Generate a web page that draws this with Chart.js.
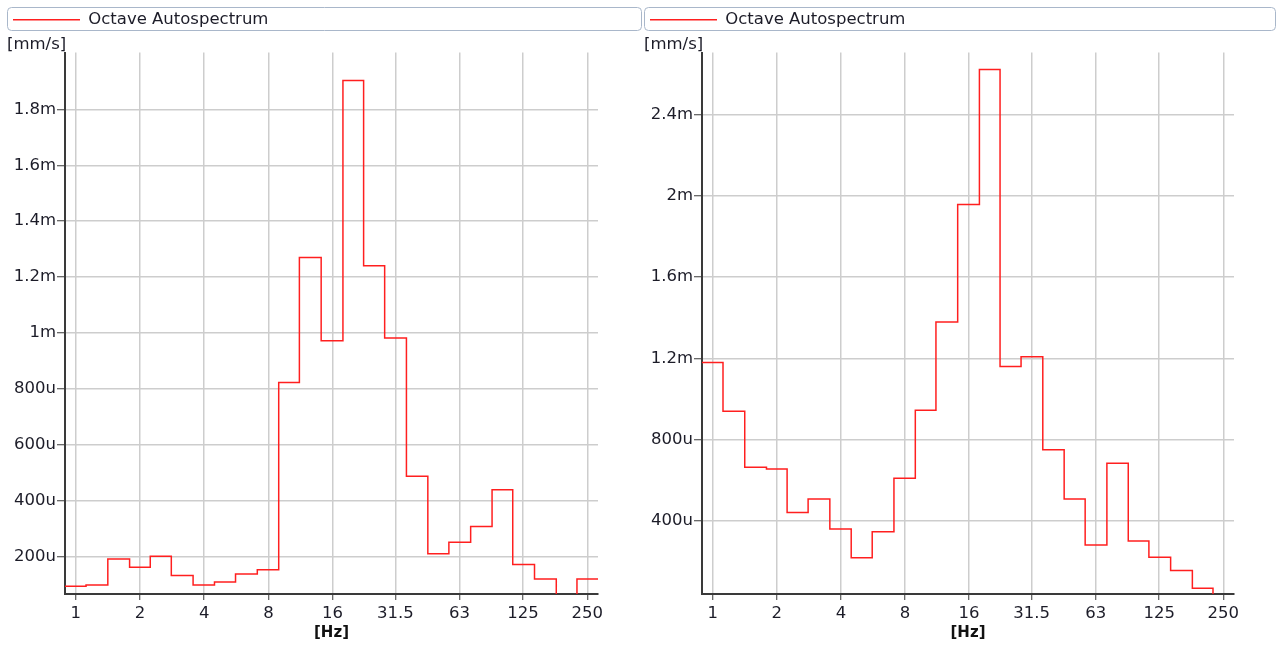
<!DOCTYPE html>
<html>
<head>
<meta charset="utf-8">
<script src="https://cdn.jsdelivr.net/npm/chart.js@4/dist/chart.umd.min.js"></script>
<style>
  html, body { margin: 0; padding: 0; background: #ffffff; }
  .wrap { position: absolute; top: 0; }
  canvas { display: block; }
</style>
</head>
<body>
<div class="wrap" style="left:0px;"><canvas id="c1" width="643" height="646"></canvas></div>
<div class="wrap" style="left:637px;"><canvas id="c2" width="640" height="646"></canvas></div>
<script>
// 1/3-octave band centre frequencies [Hz]
const bands = [1, 1.25, 1.6, 2, 2.5, 3.15, 4, 5, 6.3, 8, 10, 12.5, 16, 20, 25, 31.5, 40, 50, 63, 80, 100, 125, 160, 200, 250];

// Octave Autospectrum, left panel [mm/s]
const leftValues = [0.000093, 0.000097, 0.000190, 0.000161, 0.000200, 0.000131, 0.000097, 0.000108, 0.000137, 0.000152,
                    0.000822, 0.001270, 0.000972, 0.001904, 0.001240, 0.000982, 0.000487, 0.000209, 0.000250, 0.000307,
                    0.000438, 0.000171, 0.000119, 0.000040, 0.000119];

// Octave Autospectrum, right panel [mm/s]
const rightValues = [0.001179, 0.000939, 0.000663, 0.000655, 0.000441, 0.000507, 0.000359, 0.000218, 0.000346, 0.000609,
                     0.000944, 0.001379, 0.001957, 0.002622, 0.001159, 0.001207, 0.000750, 0.000507, 0.000280, 0.000683,
                     0.000300, 0.000220, 0.000155, 0.000067, 0.000020];

// tick values
const xTicks = [1, 2, 4, 8, 16, 31.5, 63, 125, 250];
const leftYTicks = [0.0002, 0.0004, 0.0006, 0.0008, 0.0010, 0.0012, 0.0014, 0.0016, 0.0018];
const rightYTicks = [0.0004, 0.0008, 0.0012, 0.0016, 0.0020, 0.0024];

// axis ranges
const leftYRange = [0.000065, 0.002004];
const rightYRange = [0.000039, 0.002706];

const seriesLabel = 'Octave Autospectrum';
const yUnit = '[mm/s]';
const xUnit = '[Hz]';

const FONT = "'DejaVu Sans', Verdana, sans-serif";
const FS = 16.5;
const OCT6 = Math.pow(2, 1 / 6);

function bandEdges(c) {
  const e = [c[0] / OCT6];
  for (let i = 0; i < c.length - 1; i++) e.push(Math.sqrt(c[i] * c[i + 1]));
  e.push(c[c.length - 1] * OCT6);
  return e;
}

function stepPoints(values) {
  const e = bandEdges(bands);
  const pts = values.map((v, i) => ({ x: e[i], y: v }));
  pts.push({ x: e[e.length - 1], y: values[values.length - 1] });
  return pts;
}

function fmtY(v) {
  if (v >= 0.001 - 1e-12) return parseFloat((v * 1e3).toFixed(4)) + 'm';
  return parseFloat((v * 1e6).toFixed(2)) + 'u';
}

const legendBoxPlugin = {
  id: 'legendBox',
  afterDraw(chart) {
    const ctx = chart.ctx;
    const w = chart.width;
    ctx.save();
    ctx.strokeStyle = '#a9b7ca';
    ctx.lineWidth = 1;
    ctx.beginPath();
    ctx.roundRect(7.5, 7.5, w - 9, 23, 4);
    ctx.stroke();
    ctx.restore();
  }
};

function makeChart(id, values, yTicks, yRange, rightPad) {
  const xmin = bands[0] / OCT6;
  const xmax = bands[bands.length - 1] * OCT6;
  return new Chart(document.getElementById(id), {
    type: 'line',
    data: {
      datasets: [{
        label: seriesLabel,
        data: stepPoints(values),
        borderColor: '#ff1f1f',
        backgroundColor: '#ff1f1f',
        borderWidth: 1.5,
        pointRadius: 0,
        pointHoverRadius: 0,
        stepped: 'before',
        fill: false,
        tension: 0
      }]
    },
    options: {
      responsive: false,
      animation: false,
      events: [],
      layout: { padding: { left: 7, top: 5.5, right: rightPad, bottom: 0 } },
      plugins: {
        legend: {
          display: true,
          position: 'top',
          align: 'start',
          labels: {
            usePointStyle: true,
            pointStyle: 'line',
            pointStyleWidth: 67,
            padding: 6,
            color: '#1c1c28',
            font: { family: FONT, size: FS }
          }
        },
        subtitle: {
          display: true,
          text: yUnit,
          align: 'start',
          position: 'top',
          weight: 500,
          color: '#1c1c28',
          font: { family: FONT, size: FS, lineHeight: '13px' },
          padding: { top: 0.5, bottom: 1 }
        },
        title: { display: false },
        tooltip: { enabled: false }
      },
      scales: {
        x: {
          type: 'logarithmic',
          position: 'bottom',
          min: xmin,
          max: xmax,
          bounds: 'data',
          afterBuildTicks(scale) { scale.ticks = xTicks.map(v => ({ value: v })); },
          afterFit(scale) { scale.height = 52; },
          ticks: {
            autoSkip: false,
            maxRotation: 0,
            minRotation: 0,
            padding: 4,
            color: '#1c1c28',
            font: { family: FONT, size: FS },
            callback: (v) => String(v)
          },
          grid: {
            color: '#cdcdcd',
            lineWidth: 1.5,
            tickColor: '#3a3a3a',
            tickWidth: 1,
            tickLength: 6
          },
          border: { display: true, color: '#3a3a3a', width: 2 },
          title: {
            display: true,
            text: xUnit,
            color: '#111111',
            font: { family: FONT, size: 15, weight: 'bold' },
            padding: { top: 0, bottom: 4 }
          }
        },
        y: {
          type: 'linear',
          position: 'left',
          min: yRange[0],
          max: yRange[1],
          bounds: 'data',
          afterBuildTicks(scale) { scale.ticks = yTicks.map(v => ({ value: v })); },
          afterFit(scale) { scale.width = 58; },
          ticks: {
            autoSkip: false,
            padding: 1,
            color: '#1c1c28',
            font: { family: FONT, size: FS },
            callback: (v) => fmtY(v)
          },
          grid: {
            color: '#cdcdcd',
            lineWidth: 1.5,
            tickColor: '#3a3a3a',
            tickWidth: 1,
            tickLength: 8
          },
          border: { display: true, color: '#3a3a3a', width: 2 }
        }
      }
    },
    plugins: [legendBoxPlugin]
  });
}

makeChart('c1', leftValues, leftYTicks, leftYRange, 45);
makeChart('c2', rightValues, rightYTicks, rightYRange, 43);
</script>
</body>
</html>
